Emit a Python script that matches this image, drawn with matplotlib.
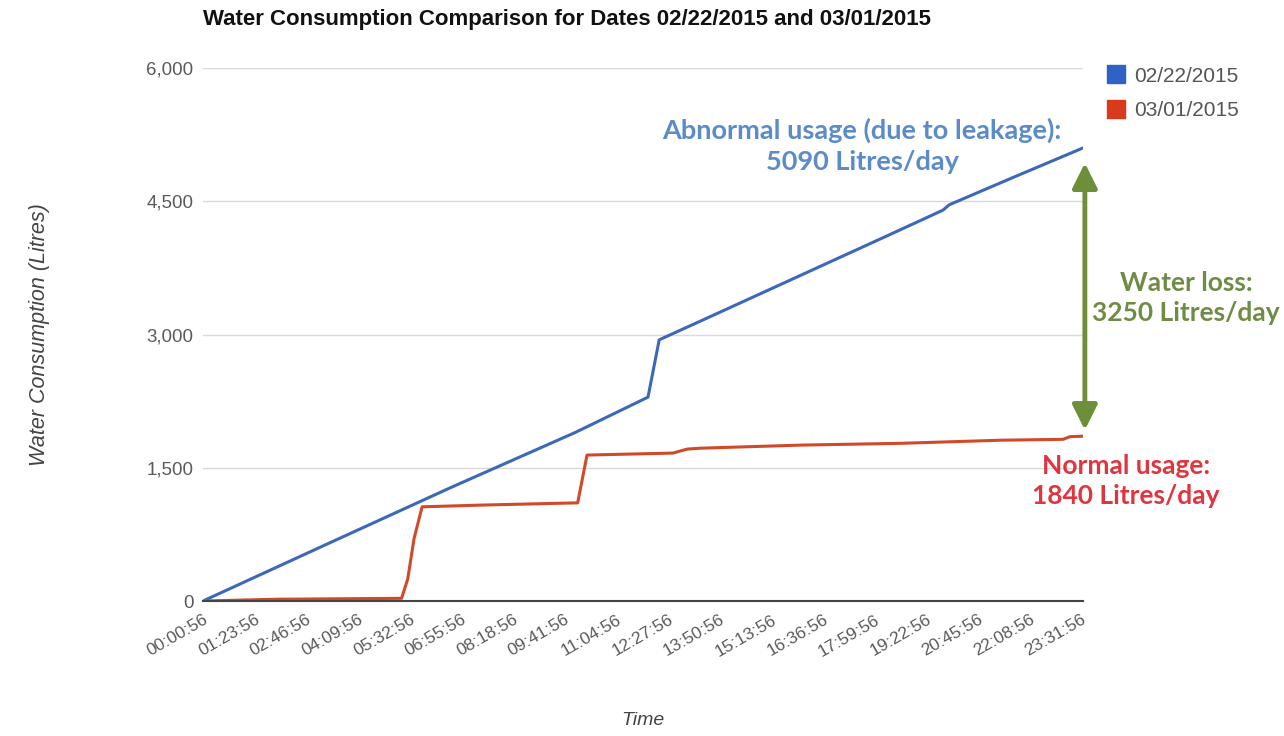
import matplotlib.pyplot as plt
from matplotlib.lines import Line2D

plt.rcParams['font.family'] = ['Liberation Sans', 'DejaVu Sans']

# data
tick_labels = ['00:00:56', '01:23:56', '02:46:56', '04:09:56', '05:32:56', '06:55:56',
               '08:18:56', '09:41:56', '11:04:56', '12:27:56', '13:50:56', '15:13:56',
               '16:36:56', '17:59:56', '19:22:56', '20:45:56', '22:08:56', '23:31:56']

blue_times = ['00:00:56', '03:20', '06:40', '10:00', '11:56', '12:14', '13:20', '15:00',
              '16:40', '18:20', '19:50', '20:00', '21:40', '23:35']
blue_vals = [0, 640, 1280, 1900, 2295, 2940, 3150, 3470, 3790, 4110, 4400, 4460, 4760, 5100]

red_times = ['00:00:56', '02:00', '05:20', '05:30', '05:40', '05:53', '07:30', '10:03',
             '10:18', '12:36', '12:59', '13:20', '16:02', '18:42', '21:23', '23:03',
             '23:14', '23:35']
red_vals = [0, 20, 30, 250, 700, 1060, 1080, 1105, 1643, 1665, 1710, 1720, 1755, 1775,
            1810, 1820, 1850, 1855]

series_names = ['02/22/2015', '03/01/2015']


def to_min(s):
    parts = [int(p) for p in s.split(':')]
    while len(parts) < 3:
        parts.append(0)
    return parts[0] * 60 + parts[1] + parts[2] / 60


bx = [to_min(t) for t in blue_times]
rx = [to_min(t) for t in red_times]
ticks = [to_min(t) for t in tick_labels]

blue = '#3d68b8'
red = '#d04a2a'
green = '#6e8f3a'

fig = plt.figure(figsize=(12.84, 7.36), dpi=100)
ax = fig.add_axes([203 / 1284, 1 - 601 / 736, 880 / 1284, 533 / 736])

ax.plot(bx, blue_vals, color=blue, lw=2.2)
ax.plot(rx, red_vals, color=red, lw=2.2)

ax.set_xlim(ticks[0], rx[-1])
ax.set_ylim(0, 6000)
ax.set_yticks([0, 1500, 3000, 4500, 6000])
ax.set_yticklabels(['0', '1,500', '3,000', '4,500', '6,000'])
ax.set_xticks(ticks)
ax.set_xticklabels(tick_labels, rotation=30, ha='right', rotation_mode='anchor')
ax.tick_params(colors='#5a5a5a', length=0)
ax.tick_params(axis='y', pad=7, labelsize=13.5)
ax.tick_params(axis='x', pad=8, labelsize=12.5)
ax.grid(axis='y', color='#d9d9d9', lw=1)
ax.set_axisbelow(True)
for s in ['top', 'right', 'left']:
    ax.spines[s].set_visible(False)
ax.spines['bottom'].set_color('#444444')
ax.spines['bottom'].set_linewidth(1.5)

ax.set_xlabel('Time', fontsize=14, style='italic', color='#444444', labelpad=38)
ax.set_ylabel('Water Consumption (Litres)', fontsize=15.5, style='italic',
              color='#444444', labelpad=69)

fig.text(203 / 1284, 1 - 20 / 736,
         'Water Consumption Comparison for Dates 02/22/2015 and 03/01/2015',
         fontsize=16, fontweight='bold', color='#111111', va='center')

# double arrow showing the water loss
ax.annotate('', xy=(rx[-1] + 3, blue_vals[-1] - 170), xytext=(rx[-1] + 3, red_vals[-1] + 70),
            arrowprops=dict(arrowstyle='<|-|>', color=green, lw=3.5, mutation_scale=38,
                            shrinkA=0, shrinkB=0),
            annotation_clip=False)

fig.text(862 / 1284, 1 - 146 / 736, 'Abnormal usage (due to leakage):\n5090 Litres/day',
         ha='center', va='center', color='#5b8bc8', fontsize=19.5, fontweight='bold',
         family='Lato', linespacing=1.32)
fig.text(1186 / 1284, 1 - 298 / 736, 'Water loss:\n3250 Litres/day',
         ha='center', va='center', color='#6f8c45', fontsize=19, fontweight='bold',
         family='Lato', linespacing=1.32)
fig.text(1126 / 1284, 1 - 481 / 736, 'Normal usage:\n1840 Litres/day',
         ha='center', va='center', color='#e0343e', fontsize=19, fontweight='bold',
         family='Lato', linespacing=1.32)

handles = [Line2D([], [], marker='s', ls='', color=c, markersize=13) for c in ['#2f62c4', '#d83a1c']]
fig.legend(handles, series_names, loc='upper left', bbox_to_anchor=(1086 / 1284, 1 - 48 / 736),
           frameon=False, fontsize=15, labelcolor='#555555', handletextpad=0.3,
           labelspacing=0.75, handlelength=1.1)

fig.savefig('out.png', dpi=100)
